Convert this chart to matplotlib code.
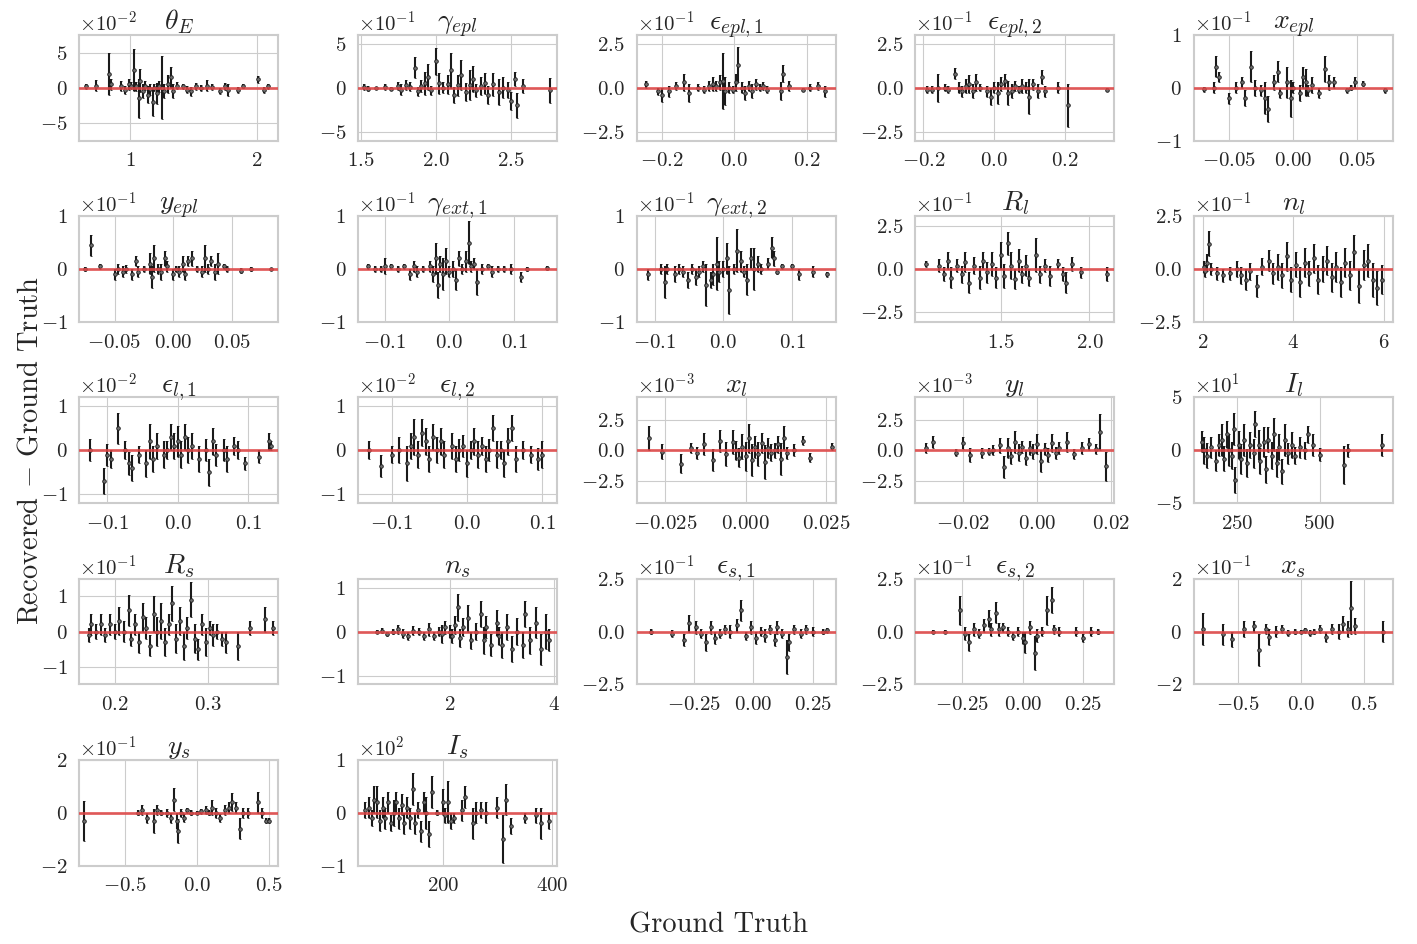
import numpy as np
import matplotlib.pyplot as plt
import seaborn as sns
from matplotlib.ticker import ScalarFormatter

# rows are (ground truth, residual, 1-sigma); residual and sigma in units of 10**exp of the panel
theta_E = [(0.65, 0.2, 0.4), (0.73, 0.3, 0.8), (0.83, 2.0, 3.0), (0.85, 0.5, 0.8), (0.93, 0.2, 0.7),
           (0.96, -0.3, 0.6), (0.99, 0.5, 0.8), (1.01, 0.3, 0.5), (1.03, 2.5, 3.0), (1.05, 0.2, 0.6),
           (1.07, -1.5, 2.8), (1.08, 1.0, 1.6), (1.10, -0.5, 1.0), (1.12, 0.3, 0.6), (1.14, -1.0, 1.2),
           (1.16, -0.2, 0.8), (1.18, -2.0, 2.0), (1.19, 0.0, 0.5), (1.21, -0.8, 1.5), (1.23, 0.2, 0.8),
           (1.25, 0.0, 4.5), (1.27, -0.5, 1.0), (1.30, 0.5, 1.3), (1.32, 1.5, 1.5), (1.34, -0.5, 1.0),
           (1.37, 0.3, 0.5), (1.42, 0.2, 0.4), (1.45, -0.3, 0.5), (1.48, -0.5, 0.6), (1.52, 0.2, 0.5),
           (1.56, 0.0, 0.4), (1.61, 0.3, 0.8), (1.65, 0.1, 0.4), (1.71, -0.5, 0.4), (1.75, 0.2, 0.5),
           (1.77, -0.3, 0.8), (1.85, -0.3, 0.4), (1.89, 0.2, 0.3), (2.01, 1.2, 0.5), (2.06, -0.3, 0.4),
           (2.09, 0.2, 0.4)]
gamma_epl = [(1.52, 0.1, 0.3), (1.55, -0.1, 0.3), (1.60, 0.0, 0.1), (1.66, 0.1, 0.3), (1.70, -0.1, 0.2),
             (1.75, 0.2, 0.4), (1.77, -0.2, 0.6), (1.80, 0.3, 0.6), (1.83, 0.1, 0.5), (1.86, 2.3, 1.2),
             (1.88, -0.4, 0.5), (1.90, 0.2, 0.7), (1.93, 0.5, 1.3), (1.95, 1.2, 1.5), (1.97, -0.3, 0.5),
             (2.00, 3.0, 1.5), (2.02, 0.5, 1.2), (2.05, 0.0, 0.6), (2.08, 0.4, 1.1), (2.10, 2.0, 2.0),
             (2.12, -0.8, 0.9), (2.15, 0.3, 1.2), (2.17, 1.5, 1.7), (2.20, -0.5, 1.0), (2.23, 0.3, 1.7),
             (2.25, 1.0, 1.5), (2.27, -0.3, 0.7), (2.30, 0.2, 1.0), (2.33, 0.5, 1.2), (2.35, -0.8, 1.0),
             (2.38, 0.4, 1.3), (2.42, -0.5, 1.5), (2.45, 0.0, 1.2), (2.48, -0.3, 0.9), (2.50, -1.5, 1.0),
             (2.53, 1.0, 0.8), (2.54, -2.0, 1.4), (2.58, 0.2, 0.8), (2.76, -0.3, 1.4)]
e_epl_1 = [(-0.245, 0.2, 0.2), (-0.21, -0.2, 0.2), (-0.20, -0.4, 0.4), (-0.18, -0.2, 0.3), (-0.16, 0.1, 0.2),
           (-0.14, 0.3, 0.5), (-0.125, -0.3, 0.5), (-0.10, 0.0, 0.2), (-0.085, -0.1, 0.2), (-0.07, 0.1, 0.3),
           (-0.06, 0.2, 0.4), (-0.05, 0.1, 0.3), (-0.04, 0.3, 0.4), (-0.03, 0.4, 1.6), (-0.025, -0.2, 0.8),
           (-0.015, 0.0, 0.3), (-0.005, -0.1, 0.2), (0.005, 0.3, 0.5), (0.01, 1.3, 1.0), (0.02, 0.0, 0.3),
           (0.03, -0.3, 0.4), (0.04, 0.1, 0.3), (0.05, -0.2, 0.4), (0.06, 0.2, 0.3), (0.07, 0.0, 0.2),
           (0.08, 0.1, 0.2), (0.09, -0.1, 0.2), (0.13, -0.2, 0.5), (0.135, 0.8, 0.5), (0.15, 0.1, 0.3),
           (0.19, -0.1, 0.1), (0.21, 0.0, 0.2), (0.23, 0.1, 0.2), (0.25, -0.2, 0.3)]
e_epl_2 = [(-0.19, -0.1, 0.2), (-0.175, -0.1, 0.2), (-0.16, 0.0, 0.8), (-0.14, 0.0, 0.2), (-0.13, -0.1, 0.2),
           (-0.11, 0.8, 0.3), (-0.10, 0.0, 0.3), (-0.09, -0.2, 0.3), (-0.08, 0.1, 0.4), (-0.07, 0.2, 0.5),
           (-0.06, -0.2, 0.4), (-0.05, 0.3, 0.5), (-0.04, 0.0, 0.2), (-0.02, -0.2, 0.3), (-0.01, -0.5, 0.5),
           (0.00, 0.0, 0.3), (0.01, -0.3, 0.6), (0.02, 0.2, 0.4), (0.03, 0.4, 0.4), (0.04, -0.3, 0.7),
           (0.05, -0.2, 0.4), (0.06, 0.1, 0.3), (0.07, -0.1, 0.2), (0.08, 0.1, 0.4), (0.09, 0.0, 0.3),
           (0.10, -0.5, 1.0), (0.11, 0.2, 0.3), (0.125, -0.2, 0.4), (0.135, 0.6, 0.4), (0.145, -0.2, 0.3),
           (0.18, 0.0, 0.3), (0.21, -1.0, 1.2), (0.32, -0.1, 0.1)]
x_epl = [(-0.07, -0.03, 0.05), (-0.062, 0.0, 0.1), (-0.06, 0.4, 0.2), (-0.058, 0.2, 0.1), (-0.05, -0.2, 0.1),
         (-0.045, 0.0, 0.1), (-0.04, 0.1, 0.1), (-0.038, -0.2, 0.15), (-0.033, 0.4, 0.3), (-0.03, 0.0, 0.15),
         (-0.025, -0.05, 0.1), (-0.022, -0.2, 0.3), (-0.02, -0.4, 0.25), (-0.015, 0.1, 0.15), (-0.012, 0.3, 0.2),
         (-0.01, -0.1, 0.1), (-0.005, 0.1, 0.3), (-0.002, -0.2, 0.35), (0.0, 0.0, 0.1), (0.005, -0.1, 0.15),
         (0.008, 0.2, 0.2), (0.01, 0.1, 0.25), (0.012, -0.05, 0.1), (0.015, 0.05, 0.15), (0.02, -0.1, 0.1),
         (0.025, 0.35, 0.25), (0.028, 0.1, 0.15), (0.032, 0.1, 0.1), (0.042, -0.05, 0.05), (0.045, 0.0, 0.05),
         (0.048, 0.1, 0.1), (0.055, 0.08, 0.05), (0.072, -0.05, 0.05)]
y_epl = [(-0.075, 0.0, 0.03), (-0.07, 0.45, 0.2), (-0.062, 0.05, 0.05), (-0.05, -0.1, 0.1), (-0.047, 0.0, 0.1),
         (-0.043, -0.05, 0.1), (-0.04, 0.0, 0.08), (-0.035, -0.1, 0.1), (-0.032, 0.15, 0.1), (-0.03, -0.05, 0.1),
         (-0.025, 0.0, 0.05), (-0.02, 0.1, 0.2), (-0.018, -0.15, 0.2), (-0.016, 0.2, 0.25), (-0.013, 0.0, 0.1),
         (-0.01, -0.05, 0.15), (-0.007, 0.2, 0.15), (-0.005, 0.05, 0.1), (0.0, -0.1, 0.1), (0.002, 0.0, 0.05),
         (0.005, -0.05, 0.1), (0.008, 0.1, 0.15), (0.01, -0.1, 0.1), (0.013, 0.15, 0.1), (0.016, 0.2, 0.15),
         (0.02, 0.0, 0.05), (0.025, -0.05, 0.1), (0.027, 0.2, 0.25), (0.03, 0.0, 0.1), (0.032, 0.15, 0.1),
         (0.036, -0.05, 0.15), (0.038, 0.1, 0.2), (0.043, 0.05, 0.05), (0.046, 0.0, 0.05), (0.058, -0.03, 0.05),
         (0.066, 0.0, 0.03), (0.083, 0.0, 0.02)]
g_ext_1 = [(-0.125, 0.05, 0.05), (-0.115, 0.0, 0.05), (-0.105, 0.0, 0.05), (-0.10, 0.05, 0.15), (-0.09, 0.05, 0.05),
           (-0.08, 0.0, 0.05), (-0.07, 0.05, 0.05), (-0.06, -0.1, 0.1), (-0.055, 0.05, 0.1), (-0.05, -0.05, 0.1),
           (-0.04, 0.0, 0.05), (-0.03, 0.05, 0.1), (-0.025, -0.1, 0.15), (-0.02, 0.2, 0.3), (-0.018, -0.3, 0.25),
           (-0.015, 0.1, 0.15), (-0.01, -0.1, 0.3), (-0.005, 0.15, 0.25), (0.0, -0.05, 0.1), (0.005, 0.0, 0.15),
           (0.01, -0.2, 0.2), (0.015, 0.2, 0.15), (0.02, 0.0, 0.1), (0.025, 0.15, 0.2), (0.03, 0.5, 0.4),
           (0.033, 0.05, 0.1), (0.038, 0.1, 0.1), (0.043, -0.25, 0.25), (0.05, 0.0, 0.1), (0.06, 0.05, 0.05),
           (0.065, -0.05, 0.1), (0.075, 0.0, 0.05), (0.085, 0.0, 0.05), (0.095, 0.0, 0.1), (0.11, -0.15, 0.1),
           (0.12, 0.0, 0.03), (0.15, 0.02, 0.03)]
g_ext_2 = [(-0.11, -0.1, 0.1), (-0.09, 0.0, 0.1), (-0.085, -0.25, 0.3), (-0.082, 0.0, 0.1), (-0.07, -0.1, 0.15),
           (-0.065, 0.0, 0.1), (-0.058, -0.05, 0.1), (-0.052, -0.2, 0.15), (-0.046, 0.0, 0.1), (-0.04, -0.15, 0.15),
           (-0.035, -0.05, 0.1), (-0.03, 0.05, 0.1), (-0.025, -0.3, 0.4), (-0.018, -0.2, 0.15), (-0.015, -0.1, 0.2),
           (-0.01, 0.1, 0.5), (-0.006, -0.05, 0.2), (0.0, 0.0, 0.15), (0.005, 0.2, 0.3), (0.008, -0.4, 0.45),
           (0.015, 0.0, 0.1), (0.02, 0.35, 0.4), (0.025, 0.15, 0.2), (0.03, -0.05, 0.1), (0.035, -0.2, 0.3),
           (0.04, 0.2, 0.2), (0.045, 0.0, 0.4), (0.05, 0.1, 0.15), (0.055, 0.0, 0.1), (0.065, 0.1, 0.1),
           (0.07, 0.4, 0.2), (0.073, 0.2, 0.15), (0.078, -0.05, 0.05), (0.085, 0.05, 0.05), (0.10, 0.05, 0.05),
           (0.11, -0.1, 0.1), (0.13, -0.05, 0.1), (0.15, -0.1, 0.05)]
R_l = [(1.08, 0.3, 0.2), (1.15, 0.2, 0.4), (1.18, -0.3, 0.4), (1.20, 0.5, 0.5), (1.22, -0.5, 0.6),
       (1.25, 0.2, 0.4), (1.28, -0.3, 0.5), (1.30, 0.4, 0.6), (1.32, -0.8, 0.6), (1.35, 0.2, 0.5),
       (1.38, -0.5, 0.7), (1.40, 0.5, 0.5), (1.42, -0.2, 0.6), (1.45, 0.3, 0.7), (1.47, -0.5, 0.6),
       (1.50, 0.8, 0.8), (1.52, -0.4, 0.7), (1.54, 1.5, 0.7), (1.56, 0.2, 0.8), (1.58, -0.6, 0.6),
       (1.60, 0.5, 0.7), (1.62, -0.3, 0.5), (1.64, 0.2, 0.6), (1.66, -0.5, 0.5), (1.70, 0.8, 1.0),
       (1.72, -0.3, 0.5), (1.75, 0.2, 0.4), (1.78, -0.4, 0.6), (1.82, 0.3, 0.3), (1.85, -0.3, 0.4),
       (1.87, -0.8, 0.6), (1.90, 0.3, 0.4), (1.95, -0.2, 0.3), (2.10, -0.3, 0.4)]
n_l = [(2.02, 0.1, 0.3), (2.05, -0.1, 0.3), (2.10, 0.3, 0.4), (2.13, 1.2, 0.6), (2.17, 0.0, 0.3),
       (2.30, -0.2, 0.3), (2.45, -0.3, 0.3), (2.60, -0.2, 0.3), (2.75, 0.0, 0.4), (2.85, -0.3, 0.4),
       (2.95, -0.5, 0.5), (3.05, -0.1, 0.4), (3.20, -0.8, 0.5), (3.30, 0.1, 0.4), (3.45, 0.4, 0.5),
       (3.55, -0.2, 0.5), (3.65, 0.1, 0.6), (3.75, -0.3, 0.6), (3.85, 0.6, 0.7), (3.95, -0.5, 0.6),
       (4.05, 0.2, 0.6), (4.15, -0.6, 0.7), (4.25, 0.3, 0.7), (4.35, -0.2, 0.6), (4.45, 0.5, 0.7),
       (4.55, -0.5, 0.7), (4.65, 0.0, 0.6), (4.75, 0.4, 0.7), (4.85, -0.4, 0.7), (4.95, 0.1, 0.7),
       (5.05, -0.6, 0.7), (5.15, 0.3, 0.7), (5.25, -0.3, 0.7), (5.35, 0.8, 0.8), (5.45, -0.8, 0.8),
       (5.55, 0.2, 0.7), (5.65, 0.4, 0.8), (5.75, -0.5, 0.8), (5.85, -0.9, 0.8), (5.95, -0.5, 0.7)]
e_l_1 = [(-0.125, 0.0, 0.25), (-0.105, -0.7, 0.3), (-0.10, -0.1, 0.25), (-0.095, -0.2, 0.2), (-0.085, 0.5, 0.35),
         (-0.075, 0.0, 0.2), (-0.07, -0.3, 0.25), (-0.065, -0.4, 0.3), (-0.055, -0.1, 0.2), (-0.045, -0.3, 0.3),
         (-0.04, 0.2, 0.4), (-0.035, -0.2, 0.3), (-0.03, 0.1, 0.3), (-0.02, -0.1, 0.3), (-0.015, 0.0, 0.2),
         (-0.01, 0.3, 0.3), (-0.005, 0.1, 0.3), (0.0, 0.2, 0.35), (0.005, -0.1, 0.3), (0.01, 0.3, 0.3),
         (0.015, 0.0, 0.3), (0.02, 0.1, 0.3), (0.03, -0.2, 0.3), (0.04, 0.0, 0.25), (0.045, -0.5, 0.3),
         (0.05, 0.2, 0.3), (0.055, -0.1, 0.25), (0.065, 0.0, 0.25), (0.07, -0.2, 0.3), (0.08, 0.1, 0.2),
         (0.085, 0.0, 0.2), (0.095, -0.3, 0.15), (0.115, -0.15, 0.15), (0.13, 0.2, 0.2), (0.133, 0.1, 0.1)]
e_l_2 = [(-0.13, 0.0, 0.2), (-0.115, -0.35, 0.25), (-0.10, -0.1, 0.2), (-0.09, 0.0, 0.3), (-0.08, -0.3, 0.4),
         (-0.075, 0.1, 0.3), (-0.07, 0.3, 0.4), (-0.065, -0.1, 0.3), (-0.06, 0.4, 0.3), (-0.055, 0.2, 0.3),
         (-0.05, -0.2, 0.3), (-0.045, 0.3, 0.3), (-0.04, 0.0, 0.3), (-0.035, 0.2, 0.3), (-0.03, -0.1, 0.3),
         (-0.02, 0.1, 0.3), (-0.015, -0.2, 0.3), (-0.01, 0.0, 0.25), (-0.005, 0.1, 0.25), (0.0, -0.3, 0.3),
         (0.005, 0.0, 0.2), (0.01, 0.2, 0.3), (0.015, -0.1, 0.3), (0.02, 0.1, 0.2), (0.025, -0.2, 0.3),
         (0.03, 0.0, 0.25), (0.035, 0.5, 0.3), (0.04, -0.1, 0.3), (0.045, 0.0, 0.2), (0.05, -0.3, 0.3),
         (0.055, 0.2, 0.3), (0.06, 0.5, 0.3), (0.065, -0.2, 0.3), (0.075, 0.0, 0.2), (0.085, -0.1, 0.2),
         (0.095, -0.2, 0.25), (0.10, -0.1, 0.3)]
x_l = [(-0.030, 1.0, 1.0), (-0.026, -0.1, 0.6), (-0.020, -1.1, 0.8), (-0.017, 0.2, 0.4), (-0.015, -0.2, 0.5),
       (-0.013, 0.5, 0.9), (-0.010, -0.8, 0.9), (-0.008, 0.8, 0.9), (-0.006, -0.3, 1.0), (-0.004, 0.7, 1.0),
       (-0.003, 0.0, 0.8), (-0.002, -0.6, 0.8), (-0.001, 0.3, 1.0), (0.000, -0.5, 1.2), (0.001, 1.0, 1.2),
       (0.002, -0.8, 1.3), (0.003, 0.3, 0.9), (0.004, -0.3, 1.0), (0.005, 0.6, 0.8), (0.006, -1.0, 1.4),
       (0.007, 0.2, 0.8), (0.008, -0.2, 0.7), (0.009, 0.0, 0.6), (0.010, 0.5, 0.7), (0.011, -0.7, 1.3),
       (0.012, 1.0, 1.0), (0.013, -0.2, 0.5), (0.015, 0.0, 0.5), (0.018, 0.8, 0.4), (0.020, -0.6, 0.4),
       (0.027, 0.3, 0.3)]
y_l = [(-0.030, 0.2, 0.4), (-0.028, 0.7, 0.5), (-0.022, -0.2, 0.3), (-0.020, 0.6, 0.5), (-0.018, -0.4, 0.6),
       (-0.015, -0.2, 0.4), (-0.013, -0.1, 0.3), (-0.012, 0.0, 0.4), (-0.010, 0.4, 0.6), (-0.009, -1.4, 0.9),
       (-0.008, 0.2, 0.8), (-0.007, -0.5, 0.6), (-0.006, 0.7, 0.9), (-0.005, -0.2, 0.7), (-0.004, 0.3, 0.5),
       (-0.003, -0.6, 0.6), (-0.002, 0.2, 0.6), (-0.001, -0.1, 0.6), (0.000, 0.5, 0.8), (0.001, -0.9, 0.9),
       (0.002, 0.1, 0.5), (0.003, -0.4, 0.6), (0.004, 0.6, 0.7), (0.005, -0.2, 0.5), (0.006, 0.2, 0.5),
       (0.008, 0.7, 0.8), (0.010, -0.3, 0.4), (0.012, 0.2, 0.5), (0.014, 0.5, 0.5), (0.016, 0.1, 0.4),
       (0.017, 1.5, 1.5), (0.0185, -1.3, 1.2)]
I_l = [(145, 0.8, 1.0), (150, 0.0, 1.3), (160, -0.5, 1.2), (170, 0.3, 1.0), (185, -1.0, 1.0),
       (195, 0.5, 1.0), (205, 1.0, 1.5), (210, -0.8, 1.2), (220, 1.5, 1.3), (225, 0.0, 1.5),
       (235, -0.5, 1.3), (240, 2.0, 1.5), (245, -2.8, 1.2), (255, 0.5, 1.3), (262, -0.8, 1.4),
       (270, 1.0, 1.5), (280, -1.2, 1.3), (290, 0.5, 1.2), (300, -0.3, 1.4), (305, 2.5, 1.2),
       (315, 0.5, 1.4), (320, -1.0, 1.2), (330, 0.8, 1.4), (337, -1.8, 1.3), (345, 1.0, 1.2),
       (355, -0.5, 1.3), (362, 1.5, 1.6), (370, -1.2, 1.3), (378, 0.3, 1.2), (385, -2.0, 1.2),
       (395, 1.0, 1.5), (405, -0.3, 1.0), (415, 0.5, 1.2), (425, -0.5, 0.8), (440, 0.3, 1.0),
       (455, 0.0, 0.8), (465, 1.5, 0.8), (480, 0.5, 1.0), (500, -0.4, 0.6), (575, -1.4, 1.8),
       (585, 0.0, 0.6), (690, 0.5, 1.0)]
R_s = [(0.172, -0.1, 0.2), (0.175, 0.2, 0.3), (0.18, 0.0, 0.2), (0.185, 0.2, 0.3), (0.19, -0.1, 0.2),
       (0.195, 0.2, 0.3), (0.20, 0.0, 0.2), (0.205, 0.3, 0.4), (0.21, 0.0, 0.3), (0.215, 0.6, 0.45),
       (0.218, -0.2, 0.2), (0.222, 0.2, 0.3), (0.226, -0.3, 0.3), (0.23, 0.4, 0.4), (0.234, 0.1, 0.3),
       (0.238, -0.4, 0.3), (0.242, 0.5, 0.5), (0.246, 0.0, 0.4), (0.25, 0.3, 0.5), (0.254, -0.3, 0.4),
       (0.258, 0.2, 0.3), (0.262, 0.8, 0.5), (0.266, -0.2, 0.4), (0.27, 0.3, 0.4), (0.274, -0.4, 0.4),
       (0.278, 0.1, 0.3), (0.282, 0.9, 0.5), (0.286, -0.2, 0.4), (0.29, -0.5, 0.3), (0.294, 0.2, 0.3),
       (0.298, -0.3, 0.4), (0.302, 0.1, 0.2), (0.306, -0.1, 0.3), (0.31, 0.0, 0.2), (0.315, -0.2, 0.2),
       (0.32, -0.3, 0.3), (0.333, -0.4, 0.4), (0.345, 0.1, 0.2), (0.362, 0.35, 0.35), (0.37, 0.1, 0.2)]
n_s = [(0.60, 0.0, 0.03), (0.70, 0.02, 0.05), (0.80, -0.05, 0.05), (0.90, 0.0, 0.05), (1.00, 0.05, 0.1),
       (1.10, -0.05, 0.1), (1.20, -0.1, 0.1), (1.30, 0.02, 0.1), (1.40, 0.0, 0.08), (1.50, -0.1, 0.1),
       (1.60, 0.05, 0.15), (1.70, -0.1, 0.1), (1.80, 0.0, 0.1), (1.85, -0.05, 0.2), (1.90, 0.1, 0.15),
       (2.00, 0.0, 0.15), (2.05, -0.1, 0.15), (2.10, 0.15, 0.2), (2.15, 0.55, 0.3), (2.20, -0.15, 0.2),
       (2.25, 0.1, 0.2), (2.35, 0.3, 0.3), (2.40, -0.2, 0.2), (2.50, 0.0, 0.2), (2.60, 0.4, 0.3),
       (2.65, -0.2, 0.3), (2.70, 0.1, 0.25), (2.80, -0.3, 0.25), (2.90, 0.2, 0.3), (2.95, -0.1, 0.2),
       (3.00, -0.3, 0.3), (3.10, 0.1, 0.3), (3.20, -0.4, 0.3), (3.30, 0.0, 0.3), (3.40, -0.3, 0.3),
       (3.45, 0.4, 0.3), (3.55, -0.2, 0.3), (3.65, 0.2, 0.35), (3.75, -0.4, 0.35), (3.85, 0.0, 0.4),
       (3.90, -0.2, 0.25)]
e_s_1 = [(-0.43, 0.0, 0.1), (-0.34, -0.1, 0.15), (-0.29, -0.4, 0.3), (-0.27, 0.4, 0.4), (-0.24, 0.2, 0.3),
         (-0.22, -0.1, 0.2), (-0.20, -0.5, 0.4), (-0.18, 0.2, 0.3), (-0.16, -0.3, 0.3), (-0.14, -0.1, 0.2),
         (-0.12, 0.1, 0.2), (-0.10, 0.0, 0.3), (-0.07, 0.3, 0.3), (-0.05, 1.0, 0.5), (-0.03, -0.2, 0.2),
         (-0.01, 0.2, 0.3), (0.01, -0.3, 0.3), (0.03, 0.0, 0.2), (0.05, -0.2, 0.3), (0.07, 0.1, 0.2),
         (0.09, -0.4, 0.3), (0.10, 0.2, 0.3), (0.12, -0.1, 0.2), (0.14, -1.2, 0.8), (0.15, -0.5, 0.4),
         (0.17, 0.1, 0.2), (0.20, -0.1, 0.2), (0.22, 0.1, 0.2), (0.25, 0.0, 0.2), (0.29, 0.0, 0.1),
         (0.31, 0.05, 0.1)]
e_s_2 = [(-0.37, 0.0, 0.05), (-0.32, 0.0, 0.05), (-0.26, 1.0, 0.7), (-0.24, -0.1, 0.3), (-0.22, -0.5, 0.4),
         (-0.20, 0.1, 0.3), (-0.18, -0.1, 0.2), (-0.16, 0.3, 0.3), (-0.14, 0.6, 0.4), (-0.13, 0.1, 0.3),
         (-0.11, 0.9, 0.5), (-0.10, 0.1, 0.3), (-0.08, 0.2, 0.2), (-0.06, 0.0, 0.2), (-0.04, -0.2, 0.2),
         (-0.02, 0.0, 0.2), (0.00, -0.3, 0.3), (0.01, -0.5, 0.5), (0.03, 0.2, 0.3), (0.05, -1.0, 0.8),
         (0.06, -0.2, 0.3), (0.08, 0.0, 0.2), (0.10, 1.0, 0.7), (0.12, 1.5, 0.6), (0.13, 0.1, 0.2),
         (0.15, 0.0, 0.2), (0.22, 0.0, 0.2), (0.25, -0.3, 0.2), (0.28, 0.0, 0.2), (0.31, 0.0, 0.1)]
x_s = [(-0.78, 0.1, 0.6), (-0.62, -0.1, 0.4), (-0.55, -0.3, 0.3), (-0.45, 0.1, 0.3), (-0.37, 0.2, 0.2),
       (-0.33, -0.7, 0.6), (-0.28, 0.1, 0.2), (-0.25, -0.2, 0.3), (-0.20, 0.0, 0.2), (-0.15, 0.1, 0.15),
       (-0.10, -0.05, 0.1), (-0.05, 0.0, 0.1), (0.00, 0.0, 0.05), (0.03, 0.05, 0.1), (0.07, -0.05, 0.1),
       (0.10, 0.0, 0.1), (0.15, 0.1, 0.15), (0.20, -0.2, 0.2), (0.25, 0.1, 0.2), (0.30, 0.0, 0.3),
       (0.33, 0.3, 0.3), (0.37, 0.1, 0.3), (0.40, 0.9, 1.0), (0.43, 0.2, 0.3), (0.65, 0.0, 0.4)]
y_s = [(-0.78, -0.3, 0.75), (-0.41, 0.0, 0.1), (-0.38, 0.1, 0.2), (-0.35, -0.2, 0.2), (-0.30, -0.3, 0.45),
       (-0.28, 0.1, 0.2), (-0.25, 0.0, 0.1), (-0.21, 0.0, 0.15), (-0.18, -0.2, 0.2), (-0.16, 0.5, 0.45),
       (-0.14, -0.3, 0.3), (-0.13, -0.7, 0.45), (-0.11, 0.0, 0.15), (-0.09, -0.2, 0.15), (-0.07, 0.1, 0.1),
       (-0.04, 0.0, 0.1), (0.00, 0.0, 0.05), (0.03, 0.05, 0.1), (0.06, 0.1, 0.15), (0.08, 0.0, 0.1),
       (0.10, 0.2, 0.3), (0.13, 0.0, 0.2), (0.16, -0.2, 0.15), (0.19, 0.1, 0.2), (0.22, 0.2, 0.2),
       (0.24, 0.4, 0.35), (0.27, 0.2, 0.2), (0.30, -0.6, 0.4), (0.32, 0.0, 0.2), (0.35, 0.0, 0.2),
       (0.42, 0.4, 0.4), (0.45, 0.0, 0.2), (0.48, -0.3, 0.1), (0.50, -0.3, 0.1)]
I_s = [(58, 0.05, 0.15), (65, 0.1, 0.2), (70, -0.1, 0.15), (75, 0.25, 0.25), (80, 0.2, 0.3),
       (85, -0.15, 0.2), (90, 0.1, 0.2), (95, -0.1, 0.2), (100, 0.2, 0.2), (105, -0.2, 0.15),
       (110, 0.0, 0.25), (115, 0.2, 0.2), (120, -0.1, 0.2), (125, 0.15, 0.2), (130, -0.2, 0.2),
       (135, 0.1, 0.2), (140, -0.1, 0.2), (145, 0.45, 0.3), (150, -0.2, 0.2), (155, 0.05, 0.15),
       (160, -0.35, 0.2), (165, 0.2, 0.2), (170, 0.0, 0.3), (175, -0.4, 0.25), (180, 0.4, 0.3),
       (190, 0.0, 0.05), (200, 0.2, 0.25), (205, -0.05, 0.15), (210, 0.2, 0.4), (215, -0.15, 0.15),
       (220, -0.1, 0.1), (235, 0.05, 0.2), (240, 0.3, 0.2), (255, -0.2, 0.3), (260, 0.0, 0.2),
       (270, 0.05, 0.15), (280, 0.0, 0.2), (300, 0.1, 0.2), (310, -0.5, 0.45), (315, 0.25, 0.3),
       (325, -0.25, 0.15), (350, -0.1, 0.1), (370, -0.05, 0.15), (380, -0.2, 0.3), (395, -0.15, 0.15)]

titles = [r'$\theta_E$', r'$\gamma_{epl}$', r'$\epsilon_{epl,1}$', r'$\epsilon_{epl,2}$', r'$x_{epl}$',
          r'$y_{epl}$', r'$\gamma_{ext,1}$', r'$\gamma_{ext,2}$', r'$R_l$', r'$n_l$',
          r'$\epsilon_{l,1}$', r'$\epsilon_{l,2}$', r'$x_l$', r'$y_l$', r'$I_l$',
          r'$R_s$', r'$n_s$', r'$\epsilon_{s,1}$', r'$\epsilon_{s,2}$', r'$x_s$',
          r'$y_s$', r'$I_s$']
series = [theta_E, gamma_epl, e_epl_1, e_epl_2, x_epl, y_epl, g_ext_1, g_ext_2, R_l, n_l,
          e_l_1, e_l_2, x_l, y_l, I_l, R_s, n_s, e_s_1, e_s_2, x_s, y_s, I_s]
exponents = [-2, -1, -1, -1, -1, -1, -1, -1, -1, -1, -2, -2, -3, -3, 1, -1, 0, -1, -1, -1, -1, 2]
xticks = [[1, 2], [1.5, 2.0, 2.5], [-0.2, 0.0, 0.2], [-0.2, 0.0, 0.2], [-0.05, 0.0, 0.05],
          [-0.05, 0.0, 0.05], [-0.1, 0.0, 0.1], [-0.1, 0.0, 0.1], [1.5, 2.0], [2, 4, 6],
          [-0.1, 0.0, 0.1], [-0.1, 0.0, 0.1], [-0.025, 0.0, 0.025], [-0.02, 0.0, 0.02], [250, 500],
          [0.2, 0.3], [2, 4], [-0.25, 0.0, 0.25], [-0.25, 0.0, 0.25], [-0.5, 0.0, 0.5],
          [-0.5, 0.0, 0.5], [200, 400]]
yticks = [[-5, 0, 5], [-5, 0, 5], [-2.5, 0.0, 2.5], [-2.5, 0.0, 2.5], [-1, 0, 1],
          [-1, 0, 1], [-1, 0, 1], [-1, 0, 1], [-2.5, 0.0, 2.5], [-2.5, 0.0, 2.5],
          [-1, 0, 1], [-1, 0, 1], [-2.5, 0.0, 2.5], [-2.5, 0.0, 2.5], [-5, 0, 5],
          [-1, 0, 1], [-1, 0, 1], [-2.5, 0.0, 2.5], [-2.5, 0.0, 2.5], [-2, 0, 2],
          [-2, 0, 2], [-1, 0, 1]]
xlims = [(0.60, 2.17), (1.48, 2.81), (-0.27, 0.28), (-0.223, 0.34), (-0.0776, 0.078),
         (-0.080, 0.0897), (-0.141, 0.166), (-0.126, 0.163), (1.017, 2.14), (1.8, 6.2),
         (-0.140, 0.143), (-0.145, 0.120), (-0.0339, 0.028), (-0.0329, 0.0208), (119, 722),
         (0.162, 0.376), (0.235, 4.06), (-0.49, 0.345), (-0.443, 0.377), (-0.85, 0.73),
         (-0.815, 0.563), (45, 409)]
ylims = [7.5, 6.0, 3.0, 3.0, 1.0, 1.0, 1.0, 1.0, 3.1, 2.5, 1.2, 1.2, 4.35, 4.35, 5.0,
         1.5, 1.2, 2.5, 2.5, 2.0, 2.0, 1.0]

sns.set_style('whitegrid')
plt.rcParams['font.family'] = 'serif'
plt.rcParams['font.serif'] = ['cmr10']
plt.rcParams['mathtext.fontset'] = 'cm'
plt.rcParams['axes.formatter.use_mathtext'] = True

fig, axes = plt.subplots(5, 5, figsize=(14.17, 9.44), dpi=100)
fig.subplots_adjust(left=0.056, right=0.983, top=0.963, bottom=0.083, wspace=0.40, hspace=0.715)

for i, ax in enumerate(axes.flat):
    if i >= len(series):
        ax.remove()
        continue
    s = 10.0 ** exponents[i]
    truth, resid, sig = (np.array(c, dtype=float) for c in zip(*series[i]))
    ax.errorbar(truth, resid * s, yerr=sig * s, fmt='o', ms=2.6, mfc='#707070', mec='#1a1a1a',
                mew=0.6, ecolor='#1a1a1a', elinewidth=1.5, capsize=0.8, capthick=0.8, zorder=2)
    ax.axhline(0, color='#e04545', lw=2, alpha=0.85, zorder=3)
    ax.set_xlim(*xlims[i])
    ax.set_xticks(xticks[i])
    ax.set_ylim(-ylims[i] * s, ylims[i] * s)
    ax.set_yticks(np.array(yticks[i]) * s)
    fmt = ScalarFormatter(useMathText=True)
    fmt.set_powerlimits((0, 0))
    ax.yaxis.set_major_formatter(fmt)
    ax.tick_params(labelsize=15, pad=5)
    ax.yaxis.offsetText.set_fontsize(15)
    ax.set_title(titles[i], fontsize=20, pad=4)
    for sp in ax.spines.values():
        sp.set_color('#cccccc')
        sp.set_linewidth(1.5)

fig.supxlabel('Ground Truth', fontsize=20.5, x=0.507, y=0.006)
fig.supylabel(r'Recovered $-$ Ground Truth', fontsize=20.5, x=0.012, y=0.523)

fig.savefig('out.png', dpi=100)
